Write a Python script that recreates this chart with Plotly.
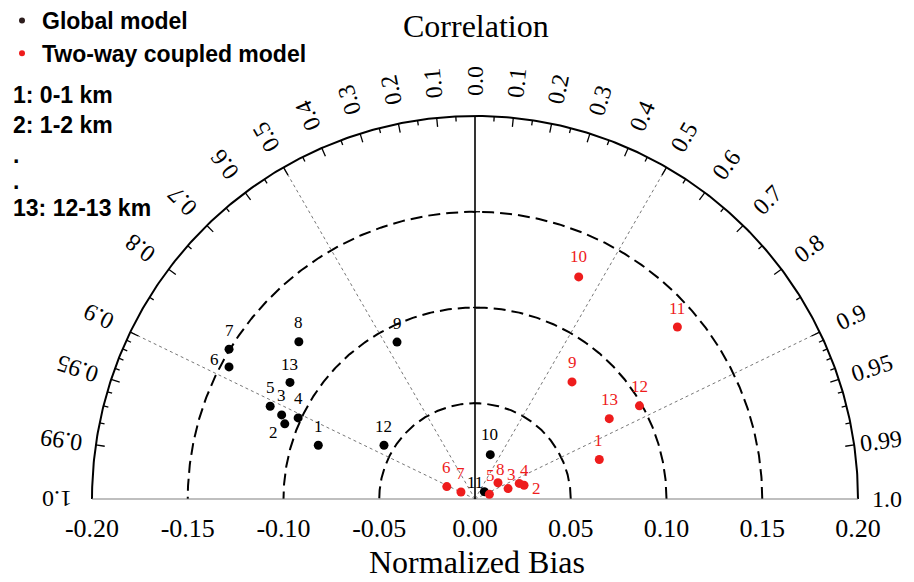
import numpy as np
import plotly.graph_objects as go

# ---------------- data ----------------
levels = [str(i) for i in range(1, 14)]
global_bias = [-0.0865, -0.1068, -0.1101, -0.1016, -0.1174, -0.1458, -0.1504,
               -0.1233, -0.0915, 0.0245, 0.0062, -0.0552, -0.1142]
global_corr = [0.946, 0.930, 0.917, 0.909, 0.911, 0.881, 0.854,
               0.746, 0.445, 0.326, 0.788, 0.861, 0.846]
coupled_bias = [0.0681, 0.0266, 0.0181, 0.0245, 0.0079, -0.0161, -0.0082,
                0.0147, 0.0794, 0.1280, 0.1387, 0.0987, 0.0817]
coupled_corr = [0.953, 0.963, 0.954, 0.943, 0.950, 0.915, 0.894,
                0.816, 0.638, 0.423, 0.762, 0.870, 0.858]

bias_ticks = [-0.20, -0.15, -0.10, -0.05, 0.00, 0.05, 0.10, 0.15, 0.20]
corr_major = [0.1, 0.2, 0.3, 0.4, 0.5, 0.6, 0.7, 0.8, 0.9, 0.95, 0.99]
corr_minor = [0.05, 0.15, 0.25, 0.35, 0.45, 0.55, 0.65, 0.75, 0.85,
              0.91, 0.92, 0.93, 0.94, 0.96, 0.97, 0.98]
corr_labels = ["0.1", "0.2", "0.3", "0.4", "0.5", "0.6", "0.7", "0.8", "0.9",
               "0.95", "0.99", "1.0"]
ref_circles = [0.05, 0.10, 0.15]
corr_lines = [0.5, 0.9]
layer_notes = ["1: 0-1 km", "2: 1-2 km", ".", ".", "13: 12-13 km"]
series_names = ["Global model", "Two-way coupled model"]

# ---------------- style ----------------
OFF = 8                                # page margin of the html body
W, H = 914 - OFF, 582 - OFF
CX, CY, RPX = 475 - OFF, 499 - OFF, 383   # centre / outer radius (pixels)
RMAX = 0.20
s = RMAX / RPX                         # data units per pixel
x0, x1 = -CX * s, (W - CX) * s
y0, y1 = -(H - CY) * s, CY * s

BLACK = "#000000"
RED = "#ee1c1c"
LEG_BLACK = "#2e1e1e"
SERIF = "Liberation Serif"
SANS = "Liberation Sans"


def px(xr):   # reference-screen x -> paper
    return (xr - OFF) / W


def py(yr):   # reference-screen y -> paper
    return 1 - (yr - OFF) / H


global_shift = [(0, 19), (-11, -9), (0, 19), (0, 19), (0, 19), (-15, 7), (0, 19),
                (0, 19), (0, 19), (-1, 20), (-9, 9), (0, 19), (0, 18)]
coupled_shift = [(-1, 19), (12, -3), (3, 14), (5, 13), (1, 19), (0, 19), (0, 18),
                 (3, 13), (0, 19), (0, 20), (0, 19), (0, 19), (0, 19)]
# right-hand labels near the page edge are pulled in slightly (pixels)
edge_pull = {"0.99": 8, "1.0": 6}


def to_xy(bias, corr):
    b = np.asarray(bias, float)
    c = np.asarray(corr, float)
    r = np.abs(b)
    return np.sign(b) * r * c, r * np.sqrt(1 - c ** 2)


fig = go.Figure()

# outer arc
t = np.linspace(0, np.pi, 400)
fig.add_trace(go.Scatter(x=RMAX * np.cos(t), y=RMAX * np.sin(t), mode="lines",
                         line=dict(color=BLACK, width=2), hoverinfo="skip",
                         showlegend=False))
# dashed reference circles
for rc in ref_circles:
    fig.add_trace(go.Scatter(x=rc * np.cos(t), y=rc * np.sin(t), mode="lines",
                             line=dict(color=BLACK, width=2, dash="12px,6px"),
                             hoverinfo="skip", showlegend=False))
# dotted correlation lines
lx, ly = [], []
for c in corr_lines:
    th = np.arccos(c)
    for side in (1, -1):
        lx += [0, side * RMAX * np.cos(th), None]
        ly += [0, RMAX * np.sin(th), None]
fig.add_trace(go.Scatter(x=lx, y=ly, mode="lines",
                         line=dict(color="#777777", width=1, dash="3px,3px"),
                         hoverinfo="skip", showlegend=False))
# baseline
fig.add_trace(go.Scatter(x=[-RMAX, RMAX], y=[0, 0], mode="lines",
                         line=dict(color="#808080", width=1.2),
                         hoverinfo="skip", showlegend=False))
# vertical line (corr = 0)
fig.add_trace(go.Scatter(x=[0, 0], y=[0, RMAX], mode="lines",
                         line=dict(color=BLACK, width=1.6),
                         hoverinfo="skip", showlegend=False))
# ticks on arc
tx, ty = [], []
for vals, ln in ((corr_major, 9), (corr_minor, 5)):
    for c in vals:
        th = np.arccos(c)
        for side in (1, -1):
            ro, ri = RMAX, RMAX - ln * s
            tx += [side * ro * np.cos(th), side * ri * np.cos(th), None]
            ty += [ro * np.sin(th), ri * np.sin(th), None]
# ticks on the vertical line
for rc in ref_circles:
    tx += [-2 * s, 5 * s, None]
    ty += [rc, rc, None]
fig.add_trace(go.Scatter(x=tx, y=ty, mode="lines",
                         line=dict(color=BLACK, width=1.3),
                         hoverinfo="skip", showlegend=False))

# data points
gx, gy = to_xy(global_bias, global_corr)
cx_, cy_ = to_xy(coupled_bias, coupled_corr)
fig.add_trace(go.Scatter(x=gx, y=gy, mode="markers", text=levels,
                         marker=dict(color=BLACK, size=9),
                         name=series_names[0], showlegend=False))
fig.add_trace(go.Scatter(x=cx_, y=cy_, mode="markers", text=levels,
                         marker=dict(color=RED, size=9),
                         name=series_names[1], showlegend=False))
# legend entries
fig.add_trace(go.Scatter(x=[None], y=[None], mode="markers",
                         marker=dict(color=LEG_BLACK, size=6),
                         name=series_names[0]))
fig.add_trace(go.Scatter(x=[None], y=[None], mode="markers",
                         marker=dict(color=RED, size=6),
                         name=series_names[1]))

annotations = []
# point labels
for xs, ys, shifts, col in ((gx, gy, global_shift, BLACK),
                            (cx_, cy_, coupled_shift, RED)):
    for xv, yv, lab, (dx, dy) in zip(xs, ys, levels, shifts):
        annotations.append(dict(x=xv, y=yv, xref="x", yref="y", text=lab,
                                showarrow=False, xshift=dx, yshift=dy,
                                xanchor="center", yanchor="middle",
                                font=dict(family=SERIF, size=17, color=col)))

# correlation labels
rlab = RMAX + 35 * s
annotations.append(dict(x=0, y=rlab, xref="x", yref="y", text="0.0",
                        showarrow=False, textangle=-90,
                        xanchor="center", yanchor="middle",
                        font=dict(family=SERIF, size=24, color=BLACK)))
for lab in corr_labels:
    c = float(lab)
    th = np.arccos(c)
    deg = np.degrees(th)
    for side in (1, -1):
        ang = -deg if side == 1 else deg - 180
        rr = rlab - (edge_pull.get(lab, 0) * s if side == 1 else 0)
        annotations.append(dict(x=side * rr * np.cos(th), y=rr * np.sin(th),
                                xref="x", yref="y", text=lab, showarrow=False,
                                textangle=ang, xanchor="center", yanchor="middle",
                                font=dict(family=SERIF, size=24, color=BLACK)))

# titles
annotations.append(dict(x=px(476), y=py(26), xref="paper", yref="paper",
                        text="Correlation", showarrow=False,
                        xanchor="center", yanchor="middle",
                        font=dict(family=SERIF, size=32, color=BLACK)))
annotations.append(dict(x=px(477), y=py(562), xref="paper", yref="paper",
                        text="Normalized Bias", showarrow=False,
                        xanchor="center", yanchor="middle",
                        font=dict(family=SERIF, size=32, color=BLACK)))
# layer notes
for note, yr in zip(layer_notes, [95, 125, 155, 181, 208]):
    annotations.append(dict(x=px(11), y=py(yr), xref="paper", yref="paper",
                            text=note, showarrow=False,
                            xanchor="left", yanchor="middle",
                            font=dict(family=SANS, size=23, color=BLACK,
                                      weight="bold")))

fig.update_layout(
    width=W, height=H,
    margin=dict(l=0, r=0, t=0, b=0, autoexpand=False),
    paper_bgcolor="white", plot_bgcolor="white",
    xaxis=dict(range=[x0, x1], domain=[0, 1], anchor="free",
               position=(H - CY) / H, showgrid=False, zeroline=False,
               showline=False, ticks="outside", ticklen=6,
               tickcolor="rgba(0,0,0,0)", tickvals=bias_ticks,
               ticktext=["%.2f" % v for v in bias_ticks],
               tickfont=dict(family=SERIF, size=26, color=BLACK),
               fixedrange=True),
    yaxis=dict(range=[y0, y1], domain=[0, 1], visible=False, fixedrange=True),
    showlegend=True,
    legend=dict(x=-6 / W, y=1 + 9 / H, xanchor="left", yanchor="top",
                bgcolor="rgba(0,0,0,0)",
                font=dict(family=SANS, size=23, color=BLACK, weight="bold"),
                itemsizing="trace", tracegroupgap=0),
    annotations=annotations,
)

fig.write_html("out.html")
